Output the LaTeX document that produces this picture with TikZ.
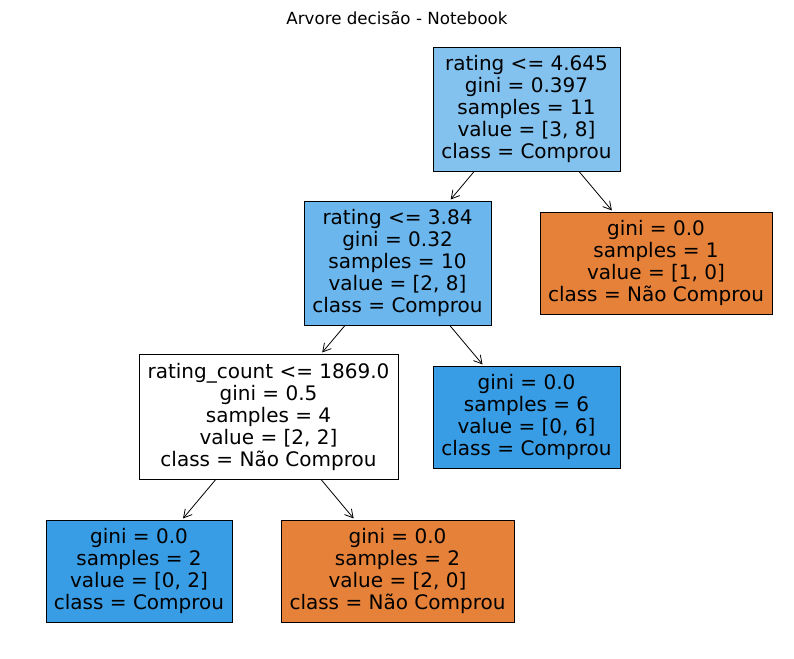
\documentclass[tikz,border=0pt]{standalone}
\usepackage{fontspec}
\setmainfont{DejaVu Sans}
\usetikzlibrary{arrows.meta}
\definecolor{rootblue}{RGB}{131,194,239}
\definecolor{midblue}{RGB}{107,182,236}
\definecolor{pureblue}{RGB}{57,157,229}
\definecolor{pureorange}{RGB}{229,129,57}
\tikzset{
  treebox/.style={draw=black, line width=0.8pt, align=center, inner sep=0pt,
    font=\fontsize{20}{22}\selectfont, text=black},
  arr/.style={-{Straight Barb[length=8pt,width=9pt,line width=0.8pt]}, line width=0.8pt, shorten >=1.5pt},
  titletext/.style={font=\fontsize{16.7}{18}\selectfont}
}
\begin{document}
\begin{tikzpicture}[x=1pt,y=-1pt]
\path[use as bounding box, fill=white] (0,0) rectangle (794,658);
\node[titletext] (title) at (397,18) {Arvore decisão - Notebook};
\node[treebox, fill=rootblue, minimum width=187pt, minimum height=124pt] (root) at (526.5,109)
  {rating <= 4.645\\gini = 0.397\\samples = 11\\value = [3, 8]\\class = Comprou};
\node[treebox, fill=midblue, minimum width=187pt, minimum height=124pt] (n1) at (397.5,263)
  {rating <= 3.84\\gini = 0.32\\samples = 10\\value = [2, 8]\\class = Comprou};
\node[treebox, fill=pureorange, minimum width=232pt, minimum height=102pt] (leafR) at (656,263)
  {gini = 0.0\\samples = 1\\value = [1, 0]\\class = Não Comprou};
\node[treebox, fill=white, minimum width=259pt, minimum height=125pt] (n2) at (268.5,416.5)
  {rating\_count <= 1869.0\\gini = 0.5\\samples = 4\\value = [2, 2]\\class = Não Comprou};
\node[treebox, fill=pureblue, minimum width=187pt, minimum height=102pt] (leaf6) at (526.5,417)
  {gini = 0.0\\samples = 6\\value = [0, 6]\\class = Comprou};
\node[treebox, fill=pureblue, minimum width=186pt, minimum height=102pt] (leafA) at (139,571)
  {gini = 0.0\\samples = 2\\value = [0, 2]\\class = Comprou};
\node[treebox, fill=pureorange, minimum width=233pt, minimum height=102pt] (leafB) at (397.5,571)
  {gini = 0.0\\samples = 2\\value = [2, 0]\\class = Não Comprou};
\draw[arr] (root) -- (n1);
\draw[arr] (root) -- (leafR);
\draw[arr] (n1) -- (n2);
\draw[arr] (n1) -- (leaf6);
\draw[arr] (n2) -- (leafA);
\draw[arr] (n2) -- (leafB);
\end{tikzpicture}
\end{document}
